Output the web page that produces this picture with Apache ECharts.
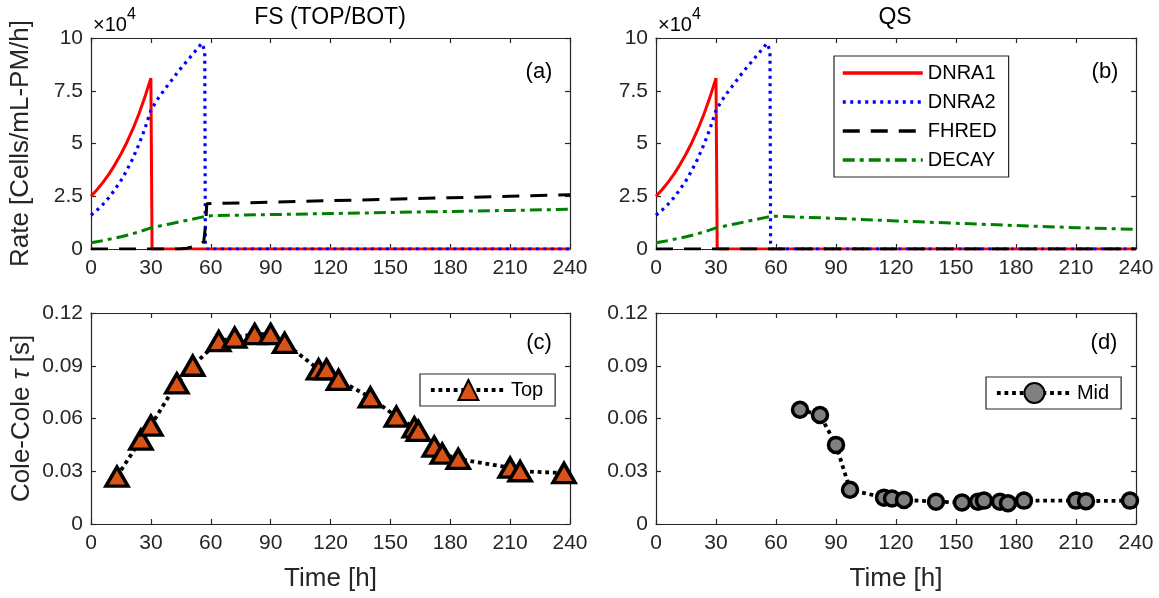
<!DOCTYPE html>
<html>
<head>
<meta charset="utf-8">
<script src="https://cdn.jsdelivr.net/npm/echarts@6/dist/echarts.min.js"></script>
<style>html,body{margin:0;padding:0;background:#fff}#c{width:1159px;height:598px}</style>
</head>
<body>
<div id="c"></div>
<script>
// ---- DATA (rates in units of 1e4 cells/mL-PM/h; time in h) ----
const xTicks = [0, 30, 60, 90, 120, 150, 180, 210, 240];
const rateTicks = ['0', '2.5', '5', '7.5', '10'];
const tauTicks = ['0', '0.03', '0.06', '0.09', '0.12'];
const seriesNames = ['DNRA1', 'DNRA2', 'FHRED', 'DECAY'];

const dnra1 = [[0,2.5],[3,2.81],[6,3.16],[9,3.55],[12,4.0],[15,4.5],[18,5.06],[21,5.69],[24,6.4],[27,7.2],[29,7.8],[30,8.1],[30.6,0],[240,0]];
const dnra2 = [[0,1.6],[3,1.84],[6,2.12],[9,2.44],[12,2.82],[15,3.24],[18,3.74],[21,4.3],[24,4.96],[27,5.7],[30,6.57],[33,7.05],[36,7.45],[40,7.95],[44,8.45],[48,8.9],[52,9.35],[55.5,9.75],[56.3,9.8],[57,9.4],[57.3,0.3],[58,0],[240,0]];
const fsFhred = [[0,0],[44,0],[48,0.04],[51,0.1],[54,0.2],[56.5,0.35],[57.5,1.2],[58,2.15],[90,2.22],[120,2.29],[150,2.36],[180,2.43],[210,2.5],[240,2.57]];
const qsFhred = [[0,0],[240,0]];
const fsDecay = [[0,0.3],[5,0.38],[10,0.48],[15,0.58],[20,0.7],[25,0.84],[30,1.0],[35,1.1],[40,1.2],[45,1.3],[50,1.4],[55,1.5],[57.5,1.55],[60,1.58],[90,1.63],[120,1.68],[150,1.73],[180,1.78],[210,1.83],[240,1.88]];
const qsDecay = [[0,0.3],[5,0.38],[10,0.48],[15,0.58],[20,0.7],[25,0.84],[30,1.0],[35,1.1],[40,1.2],[45,1.3],[50,1.4],[55,1.5],[57.5,1.55],[60,1.55],[90,1.45],[120,1.33],[150,1.22],[180,1.11],[210,1.01],[240,0.93]];

const topTimes = [13,25,30,43,51,64,72,82,90,97,114,118,124,140,153,162,164,172,176,184,210,215,237];
const topTau   = [0.027,0.048,0.056,0.080,0.090,0.104,0.106,0.108,0.108,0.103,0.088,0.088,0.082,0.072,0.061,0.055,0.053,0.044,0.040,0.037,0.032,0.030,0.029];
const midTimes = [72,82,90,97,114,118,124,140,153,161,164,172,176,184,210,215,237];
const midTau   = [0.065,0.062,0.045,0.0195,0.015,0.0145,0.0137,0.0127,0.0122,0.0127,0.0133,0.0127,0.0118,0.0133,0.0133,0.013,0.0133];

// ---- CHART ----
const FONT = 'Liberation Sans, Arial, Helvetica, sans-serif';
const AX = '#262626';
const chart = echarts.init(document.getElementById('c'), null, {renderer: 'canvas'});

const grids = [
  {left: 91, top: 38, width: 479, height: 211},
  {left: 656, top: 38, width: 480, height: 211},
  {left: 91, top: 313, width: 479, height: 211},
  {left: 656, top: 313, width: 480, height: 211}
];

function xAx(i, pos) {
  const main = pos === 'bottom';
  return {
    type: 'value', gridIndex: i, position: pos, min: xTicks[0], max: xTicks[xTicks.length-1], interval: 30,
    name: (main && i >= 2) ? 'Time [h]' : '', nameLocation: 'middle', nameGap: 42,
    nameTextStyle: {fontSize: 26, fontFamily: FONT, color: AX},
    axisLine: {show: true, onZero: false, lineStyle: {color: AX, width: 1.2}},
    axisTick: {show: true, inside: true, length: 5, lineStyle: {color: AX, width: 1.2}},
    axisLabel: {show: main, fontSize: 21, fontFamily: FONT, color: AX, margin: 9,
      formatter: v => String(v)},
    splitLine: {show: false}
  };
}
function yAx(i, pos) {
  const main = pos === 'left';
  const isRate = i < 2;
  const ticks = isRate ? rateTicks : tauTicks;
  return {
    type: 'value', gridIndex: i, position: pos, min: 0, max: isRate ? 10 : 0.12, interval: isRate ? 2.5 : 0.03,
    name: main && i === 0 ? 'Rate [Cells/mL-PM/h]' : (main && i === 2 ? 'Cole-Cole {it|τ} [s]' : ''),
    nameLocation: 'middle', nameRotate: 90, nameGap: i === 0 ? 57 : 56,
    nameTextStyle: {fontSize: 26, fontFamily: FONT, color: AX,
      rich: {it: {fontSize: 26, fontFamily: FONT, fontStyle: 'italic', color: AX}}},
    axisLine: {show: true, onZero: false, lineStyle: {color: AX, width: 1.2}},
    axisTick: {show: true, inside: true, length: 5, lineStyle: {color: AX, width: 1.2}},
    axisLabel: {show: main, fontSize: 21, fontFamily: FONT, color: AX, margin: 8,
      formatter: (v) => {
        const step = isRate ? 2.5 : 0.03;
        const k = Math.round(v / step);
        return ticks[k] !== undefined ? ticks[k] : '';
      }},
    splitLine: {show: false}
  };
}

const xAxes = [], yAxes = [];
for (let i = 0; i < 4; i++) xAxes.push(xAx(i, 'bottom'));
for (let i = 0; i < 4; i++) xAxes.push(xAx(i, 'top'));
for (let i = 0; i < 4; i++) yAxes.push(yAx(i, 'left'));
for (let i = 0; i < 4; i++) yAxes.push(yAx(i, 'right'));

const styles = {
  DNRA1: {color: '#FF0000', width: 3, type: 'solid'},
  DNRA2: {color: '#0000FF', width: 3.2, type: [3, 4.5]},
  FHRED: {color: '#000000', width: 3, type: [17, 11]},
  DECAY: {color: '#008000', width: 3, type: [12, 5, 4, 5]}
};
function rateSeries(name, data, gi) {
  const s = styles[name];
  return {
    name, type: 'line', xAxisIndex: gi, yAxisIndex: gi, data, symbol: 'none', showSymbol: false,
    lineStyle: {color: s.color, width: s.width, type: s.type}, itemStyle: {color: s.color},
    animation: false, silent: true, clip: true
  };
}

const series = [
  rateSeries('DNRA1', dnra1, 0), rateSeries('DNRA2', dnra2, 0), rateSeries('FHRED', fsFhred, 0), rateSeries('DECAY', fsDecay, 0),
  rateSeries('DNRA1', dnra1, 1), rateSeries('DNRA2', dnra2, 1), rateSeries('FHRED', qsFhred, 1), rateSeries('DECAY', qsDecay, 1),
  {
    name: 'Top', type: 'line', xAxisIndex: 2, yAxisIndex: 2,
    data: topTimes.map((t, k) => [t, topTau[k]]),
    symbol: 'triangle', symbolSize: [22, 19], clip: false,
    lineStyle: {color: '#000', width: 3.8, type: [3.8, 3.8]},
    itemStyle: {color: '#D95319', borderColor: '#000', borderWidth: 3.5},
    animation: false, silent: true
  },
  {
    name: 'Mid', type: 'line', xAxisIndex: 3, yAxisIndex: 3,
    data: midTimes.map((t, k) => [t, midTau[k]]),
    symbol: 'circle', symbolSize: 15, clip: false,
    lineStyle: {color: '#000', width: 3.8, type: [3.8, 3.8]},
    itemStyle: {color: '#808080', borderColor: '#000', borderWidth: 3.5},
    animation: false, silent: true
  }
];

const legendText = {fontSize: 20, fontFamily: FONT, color: '#000'};
const legends = [
  {data: seriesNames, orient: 'vertical', left: 834, top: 56, itemWidth: 80, itemHeight: 2, itemGap: 9,
   padding: [7, 12, 7, 7], borderColor: AX, borderWidth: 1.2, backgroundColor: '#fff', textStyle: legendText,
   selectedMode: false, itemStyle: {opacity: 0, borderWidth: 0}, lineStyle: {width: 3.5}},
  {data: ['Top'], orient: 'horizontal', left: 420, top: 374, itemWidth: 75, itemHeight: 25, padding: [5, 12, 5, 9],
   borderColor: AX, borderWidth: 1.2, backgroundColor: '#fff', textStyle: legendText, selectedMode: false,
   lineStyle: {width: 3.8}},
  {data: ['Mid'], orient: 'horizontal', left: 986, top: 377, itemWidth: 75, itemHeight: 25, padding: [5, 12, 5, 9],
   borderColor: AX, borderWidth: 1.2, backgroundColor: '#fff', textStyle: legendText, selectedMode: false,
   lineStyle: {width: 3.8}}
];

function txt(x, y, text, size, align) {
  return {type: 'text', x, y, silent: true, z: 100,
    style: {text, font: size + 'px ' + FONT, fill: '#000', textAlign: align || 'center', textVerticalAlign: 'middle'}};
}
const graphic = [
  txt(330, 18, 'FS (TOP/BOT)', 23),
  txt(895, 18, 'QS', 23),
  txt(93, 25, '×10', 20, 'left'), txt(127, 15, '4', 16, 'left'),
  txt(658, 25, '×10', 20, 'left'), txt(692, 15, '4', 16, 'left'),
  txt(539, 72, '(a)', 22), txt(1105, 72, '(b)', 22),
  txt(539, 343, '(c)', 22), txt(1104, 343, '(d)', 22)
];

chart.setOption({
  animation: false,
  backgroundColor: '#fff',
  textStyle: {fontFamily: FONT},
  grid: grids.map(g => Object.assign({show: false, containLabel: false, outerBoundsMode: 'none'}, g)),
  xAxis: xAxes, yAxis: yAxes, series, legend: legends, graphic
});
</script>
</body>
</html>
